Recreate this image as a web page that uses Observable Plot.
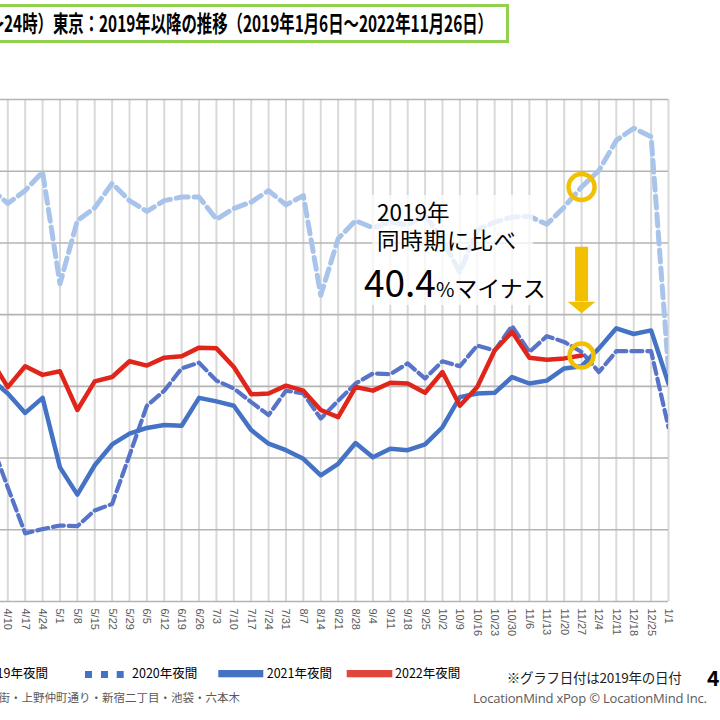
<!DOCTYPE html>
<html><head><meta charset="utf-8">
<script src="https://cdn.jsdelivr.net/npm/d3@7"></script>
<script src="https://cdn.jsdelivr.net/npm/@observablehq/plot@0.6"></script>
<style>
body{margin:0;background:#fff;width:720px;height:720px;overflow:hidden;position:relative;}
#chart{position:absolute;left:0;top:0;}
#ov{position:absolute;left:0;top:0;pointer-events:none;}
</style></head><body>
<div id="chart"></div>
<svg id="ov" width="720" height="720" font-family="'Noto Sans CJK JP', sans-serif">
  <rect x="-20" y="5.5" width="527.5" height="36" fill="#fff" stroke="#92d050" stroke-width="3"/>
  <text x="4.5" y="31.5" font-size="22.5" font-weight="bold" text-anchor="end">～</text>
  <text x="4" y="31.5" font-size="22.5" font-weight="bold" textLength="489" lengthAdjust="spacingAndGlyphs">24時）東京：2019年以降の推移（2019年1月6日～2022年11月26日）</text>

  <rect x="372" y="195" width="161" height="110" fill="#fff" fill-opacity="0.75"/>
  <text x="377" y="221" font-size="22.5">2019年</text>
  <text x="377" y="249" font-size="22.5" textLength="139">同時期に比べ</text>
  <text x="364" y="297" font-size="37">40.4<tspan font-size="20">%</tspan><tspan font-size="23">マイナス</tspan></text>

  <g font-size="12.5" fill="#000">
    <text x="48" y="678" text-anchor="end">2019年夜間</text>
    <rect x="85" y="671" width="7" height="7" fill="#4472c4"/>
    <rect x="101" y="671" width="7" height="7" fill="#4472c4"/>
    <rect x="116.7" y="671" width="7" height="7" fill="#4472c4"/>
    <text x="132" y="678">2020年夜間</text>
    <rect x="218.3" y="670" width="45" height="7.3" fill="#4472c4"/>
    <text x="266.7" y="678">2021年夜間</text>
    <rect x="346.7" y="670" width="45.6" height="7.3" fill="#e0463c"/>
    <text x="395" y="678">2022年夜間</text>
  </g>
  <text x="506.7" y="682.5" font-size="13.5" textLength="175" fill="#222">※グラフ日付は2019年の日付</text>
  <text x="707" y="686" font-size="21" font-weight="bold">4</text>
  <text x="240" y="702" font-size="11.5" text-anchor="end" fill="#595959">センター街・上野仲町通り・新宿二丁目・池袋・六本木</text>
  <text x="473" y="703" font-size="13" textLength="234" fill="#595959" font-family="'Open Sans', 'Noto Sans', sans-serif">LocationMind xPop © LocationMind Inc.</text>
</svg>
<script>
const weeks = ["4/3","4/10","4/17","4/24","5/1","5/8","5/15","5/22","5/29","6/5","6/12","6/19","6/26","7/3","7/10","7/17","7/24","7/31","8/7","8/14","8/21","8/28","9/4","9/11","9/18","9/25","10/2","10/9","10/16","10/23","10/30","11/6","11/13","11/20","11/27","12/4","12/11","12/18","12/25","1/1"];
const y2019 = [57.6,55.5,57.3,59.9,44.3,53.1,54.9,58.3,55.9,54.4,55.9,56.4,56.4,53.3,54.8,55.7,57.3,55.3,56.6,42.7,50.6,53.1,52.1,52.9,52.5,53.9,50.4,45.9,51.8,52.9,53.6,53.7,52.6,55.0,57.8,60.1,64.3,66.0,64.8,32.2];
const y2020 = [22.5,15.9,9.5,10.1,10.6,10.5,12.7,13.6,20.4,27.3,29.4,32.5,33.3,30.8,29.7,27.8,26.0,29.4,29.0,25.5,28.0,30.4,31.8,31.7,33.2,31.1,33.5,32.8,35.7,35.0,38.4,34.8,37.0,36.2,34.8,32.0,34.9,34.9,34.9,24.3];
const y2021 = [31.1,29.0,26.3,28.4,18.7,14.9,19.0,21.9,23.4,24.2,24.6,24.5,28.4,27.9,27.3,23.9,22.0,21.1,19.9,17.6,19.2,22.1,20.1,21.3,21.1,21.9,24.3,28.5,29.0,29.1,31.3,30.4,30.8,32.5,32.8,35.3,38.1,37.3,37.8,30.4];
const y2022 = [33.8,29.9,32.8,31.6,32.1,26.7,30.7,31.3,33.5,32.9,34.0,34.2,35.4,35.3,32.7,28.9,29.0,30.1,29.4,26.7,25.7,29.9,29.4,30.5,30.4,29.1,32.0,27.3,29.9,35.0,37.6,34.0,33.7,33.9,34.3];
const yTicks = [0,10,20,30,40,50,60,70];
const highlightWeek = "11/27";
const arrowY = [49.4, 41.8, 40.2];  // annotation arrow: top, neck, tip (value units)

const tickIdx = d3.range(1, weeks.length);
const hi = weeks.indexOf(highlightWeek);
const YEL = "#f2c000";
const lineOpts = {x: (d, i) => i, y: d => d, clip: true, strokeLinejoin: "round"};

const chart = Plot.plot({
  width: 720, height: 720,
  marginTop: 99, marginBottom: 119, marginLeft: 0, marginRight: 52,
  style: {background: "transparent", fontFamily: "'Liberation Sans', sans-serif"},
  x: {domain: [0.58, weeks.length - 1]},
  y: {domain: [0, 70], axis: null},
  marks: [
    Plot.ruleX(tickIdx, {stroke: "#d9d9d9", strokeWidth: 2}),
    Plot.ruleY(yTicks, {stroke: "#b4b4b4", strokeWidth: 1.6}),
    Plot.axisX(tickIdx, {tickFormat: i => weeks[i], tickRotate: 90, tickSize: 0, tickPadding: 7, fontSize: 11, color: "#595959", label: null}),
    Plot.line(y2019, {...lineOpts, stroke: "#a9c4ea", strokeWidth: 5, strokeDasharray: "12 6"}),
    Plot.line(y2020, {...lineOpts, stroke: "#5874c9", strokeWidth: 4.2, strokeDasharray: "11 5"}),
    Plot.line(y2021, {...lineOpts, stroke: "#4472c4", strokeWidth: 4.5}),
    Plot.line(y2022, {...lineOpts, stroke: "#e0261b", strokeWidth: 4.5}),
    Plot.dot([hi], {x: d => d, y: d => y2019[d], r: 13, stroke: YEL, strokeWidth: 4.5, fill: "none"}),
    Plot.dot([hi], {x: d => d, y: d => y2022[d], r: 12, stroke: YEL, strokeWidth: 4.5, fill: "none"}),
    Plot.ruleX([hi], {y1: arrowY[0], y2: arrowY[1], stroke: YEL, strokeWidth: 13}),
    Plot.line([[hi - 0.8, arrowY[1]], [hi + 0.8, arrowY[1]], [hi, arrowY[2]]], {fill: YEL, stroke: "none"})
  ]
});
document.getElementById("chart").appendChild(chart);
</script>
</body></html>
